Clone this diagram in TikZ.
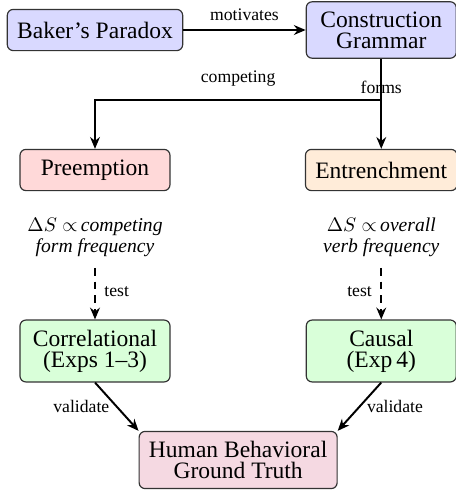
\documentclass[tikz,border=0pt]{standalone}
\usepackage{fontspec}
\setmainfont{Liberation Serif}
\usepackage{amsmath}
\usetikzlibrary{shapes, arrows.meta, positioning}
\definecolor{purplebox}{RGB}{245,217,226}
\tikzstyle{block}=[draw=black!80,line width=0.6pt,rectangle,rounded corners=3pt,
  align=center,inner xsep=5pt,inner ysep=5pt,minimum width=76.5pt,minimum height=21pt,
  font=\fontsize{12}{10.7}\selectfont]
\tikzstyle{lbl}=[font=\fontsize{9}{10}\selectfont]
\tikzstyle{hyp}=[align=center,font=\fontsize{10}{10.7}\selectfont]
\newcommand{\hypo}[2]{$\Delta S \propto$\,\textit{#1}\\\textit{#2}}

\begin{document}
\begin{tikzpicture}[node distance=146pt,>={Stealth[length=6pt,width=5pt]},line width=1pt]
    \useasboundingbox (-48.45pt,15.3pt) rectangle (184.1pt,-234.6pt);
    \node[block, fill=blue!15] (bak) {Baker's Paradox};
    \node[block, fill=blue!15, right of=bak] (cg) {Construction\\Grammar};
    \node[block, fill=red!15, below of=bak, node distance=71.4pt] (pre) {Preemption};
    \node[block, fill=orange!15, below of=cg, node distance=71.4pt] (ent) {Entrenchment};
    \coordinate[below of=cg, node distance=35.7pt] (br);
    \node[hyp, below of=pre, node distance=34.2pt] (hl) {\hypo{competing}{form frequency}};
    \node[hyp, below of=ent, node distance=34.2pt] (hr) {\hypo{overall}{verb frequency}};
    \node[block, fill=green!15, below of=hl, node distance=58.1pt] (cor) {Correlational\\(Exps 1--3)};
    \node[block, fill=green!15, below of=hr, node distance=58.1pt] (cau) {Causal\\(Exp\,4)};
    \coordinate[right of=cor, node distance=73pt] (mid);
    \node[block, fill=purplebox, below of=mid, node distance=55.6pt] (hum) {Human Behavioral\\Ground Truth};
    \draw[->] (bak) -- node[lbl, above=1pt] {motivates} (cg);
    \draw[->] (cg) -- node[lbl, pos=.32] {forms} (ent);
    \draw[->] (br) -| node[lbl, pos=.25, above=3pt] {competing} (pre);
    \draw[->, dash pattern=on 4pt off 3pt, shorten <=2pt] (hl) -- node[lbl, right=1pt] {test} (cor);
    \draw[->, dash pattern=on 4pt off 3pt, shorten <=2pt] (hr) -- node[lbl, left=1pt] {test} (cau);
    \draw[->] (cor.south) -- node[lbl, left] {validate} (hum.north west);
    \draw[->] (cau.south) -- node[lbl, right] {validate} (hum.north east);
\end{tikzpicture}
\end{document}
